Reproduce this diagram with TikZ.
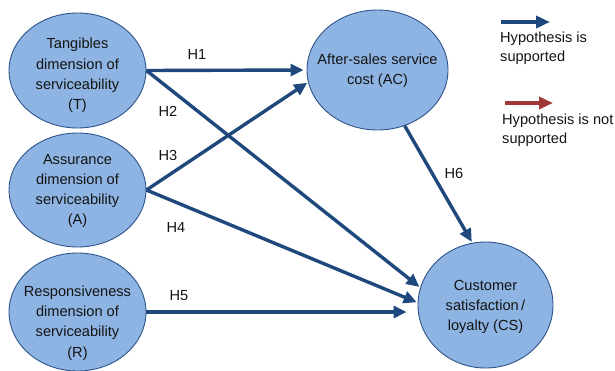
\documentclass[tikz,border=0pt]{standalone}
\usepackage{fontspec}
\setmainfont{Liberation Sans}
\usetikzlibrary{shapes.geometric,arrows.meta}
\definecolor{cfill}{RGB}{141,180,226}
\definecolor{cedge}{RGB}{46,84,138}
\definecolor{arrowblue}{RGB}{31,73,125}
\definecolor{arrowred}{RGB}{160,55,55}
\definecolor{ink}{RGB}{20,20,20}
\begin{document}
\begin{tikzpicture}[x=1pt,y=-1pt,
  construct/.style={ellipse, draw=cedge, line width=0.9pt, fill=cfill, inner sep=0pt,
    align=center, text=ink},
  hyp/.style={draw=arrowblue, line width=3.4pt,
    -{Triangle[length=13pt,width=12pt]}},
  hlabel/.style={text=ink, font=\fontsize{14.6}{20.3}\selectfont},
  legtext/.style={anchor=west, align=left, text=ink, inner sep=0pt,
    font=\fontsize{14.6}{18.5}\selectfont}]
\useasboundingbox (0,0) rectangle (615,370);

% constructs
\node[construct, minimum width=137, minimum height=115] (T) at (77.5,70.5) {};
\node[hlabel, align=center] (Tt) at (77.5,75.5) {Tangibles\\dimension of\\serviceability\\(T)};
\node[construct, minimum width=137, minimum height=114] (A) at (77.5,190) {};
\node[hlabel, align=center] (At) at (77.5,191) {Assurance\\dimension of\\serviceability\\(A)};
\node[construct, minimum width=137, minimum height=118] (R) at (77.5,312) {};
\node[hlabel, align=center] (Rt) at (77.5,323) {Responsiveness\\dimension of\\serviceability\\(R)};
\node[construct, minimum width=141, minimum height=120] (AC) at (377.5,70) {};
\node[hlabel, align=center] (ACt) at (377.5,70.5) {After-sales service\\cost (AC)};
\node[construct, minimum width=135, minimum height=126] (CS) at (485.5,305) {};
\node[hlabel, align=center] (CSt) at (485.5,307) {Customer\\satisfaction\,/\\loyalty (CS)};

% hypothesised paths
\draw[hyp, shorten >=3pt] (T.east) -- (AC.west);
\draw[hyp, shorten >=1pt] (T.east) -- (CS.165);
\draw[hyp, shorten >=1pt] (A.east) -- (AC.190);
\draw[hyp, shorten >=1pt] (A.east) -- (CS.178);
\draw[hyp, shorten >=11pt] (R.east) -- (R.east -| CS.west);
\draw[hyp, shorten >=1pt] (AC.-64) -- (CS.102);

% path labels
\node[hlabel] (h1) at (197,54) {H1};
\node[hlabel] (h2) at (168,111) {H2};
\node[hlabel] (h3) at (168,155) {H3};
\node[hlabel] (h4) at (176,227) {H4};
\node[hlabel] (h5) at (179,296) {H5};
\node[hlabel] (h6) at (454,173) {H6};

% legend
\coordinate (lb1) at (501,22);
\coordinate (lb2) at (550,22);
\draw[draw=arrowblue, line width=4pt, -{Triangle[length=14pt,width=12pt]}] (lb1) -- (lb2);
\node[legtext] (lbt) at (500,48) {Hypothesis is\\supported};
\coordinate (lr1) at (505,103);
\coordinate (lr2) at (553,103);
\draw[draw=arrowred, line width=4pt, -{Triangle[length=14pt,width=12pt]}] (lr1) -- (lr2);
\node[legtext] (lrt) at (502,130) {Hypothesis is not\\supported};
\end{tikzpicture}
\end{document}
